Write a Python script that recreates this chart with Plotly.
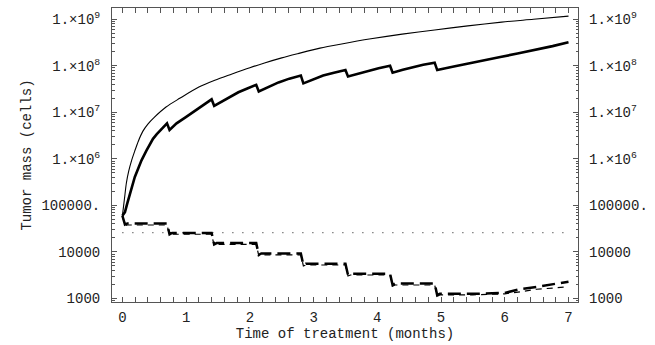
import plotly.graph_objects as go

# ---- data ----
t_untreated = [0, 0.02, 0.04, 0.062, 0.1, 0.145, 0.196, 0.25, 0.32, 0.4, 0.5, 0.685, 0.9,
               1.2, 1.45, 1.71, 2.0, 2.23, 2.5, 2.75, 3.1, 3.44, 3.9, 4.39, 4.9, 5.42,
               5.95, 6.45, 7.0]
cells_untreated = [6.0e4, 1.0e5, 1.7e5, 3.0e5, 5.5e5, 9.3e5, 1.5e6, 2.4e6, 3.9e6, 5.6e6,
                   7.8e6, 1.3e7, 2.0e7, 3.5e7, 4.9e7, 6.6e7, 9.1e7, 1.15e8, 1.48e8, 1.82e8,
                   2.4e8, 2.95e8, 3.8e8, 4.8e8, 5.9e8, 7.2e8, 8.7e8, 1.0e9, 1.17e9]

t_treated = [0, 0.04, 0.08, 0.12, 0.16, 0.195, 0.25, 0.3, 0.377, 0.43, 0.48, 0.54, 0.6, 0.65, 0.70,
             0.74, 0.85, 0.99, 1.1, 1.2, 1.3, 1.40,
             1.44, 1.6, 1.82, 1.96, 2.1,
             2.14, 2.3, 2.45, 2.62, 2.8,
             2.84, 3.0, 3.15, 3.32, 3.5,
             3.54, 3.7, 3.85, 4.02, 4.2,
             4.24, 4.4, 4.55, 4.72, 4.9,
             4.94, 5.2, 5.45, 5.7, 5.93, 6.2, 6.5, 6.75, 7.0]
cells_treated = [6.0e4, 7.2e4, 1.15e5, 1.8e5, 2.8e5, 4.1e5, 6.3e5, 9.3e5, 1.5e6, 2.1e6, 2.7e6,
                 3.4e6, 4.2e6, 5.0e6, 5.8e6,
                 4.2e6, 5.8e6, 7.8e6, 9.8e6, 1.26e7, 1.55e7, 1.9e7,
                 1.38e7, 1.86e7, 2.7e7, 3.25e7, 3.9e7,
                 2.8e7, 3.55e7, 4.4e7, 5.3e7, 6.2e7,
                 4.2e7, 5.2e7, 6.2e7, 7.1e7, 8.1e7,
                 5.9e7, 6.8e7, 7.8e7, 8.9e7, 1.0e8,
                 7.1e7, 8.2e7, 9.3e7, 1.05e8, 1.17e8,
                 8.1e7, 9.7e7, 1.15e8, 1.34e8, 1.55e8, 1.83e8, 2.2e8, 2.65e8, 3.2e8]

t_steps = [0, 0.04, 0.08, 0.70, 0.74, 0.78, 1.40, 1.44, 1.48, 2.10, 2.14, 2.18,
           2.80, 2.84, 2.88, 3.50, 3.54, 3.58, 4.20, 4.24, 4.28, 4.90, 4.94, 4.98,
           5.5, 6.0, 6.25, 6.5, 7.0]
cells_steps_a = [6.0e4, 3.9e4, 4.1e4, 4.1e4, 2.4e4, 2.57e4, 2.57e4, 1.45e4, 1.55e4,
                 1.55e4, 8.7e3, 9.3e3, 9.3e3, 5.2e3, 5.6e3, 5.6e3, 3.2e3, 3.4e3,
                 3.4e3, 1.95e3, 2.1e3, 2.1e3, 1.17e3, 1.26e3, 1.26e3, 1.32e3, 1.6e3,
                 1.78e3, 2.3e3]
cells_steps_b = [6.0e4, 3.7e4, 3.8e4, 3.8e4, 2.3e4, 2.4e4, 2.4e4, 1.38e4, 1.45e4,
                 1.45e4, 8.3e3, 8.7e3, 8.7e3, 5.0e3, 5.25e3, 5.25e3, 3.05e3, 3.2e3,
                 3.2e3, 1.85e3, 1.95e3, 1.95e3, 1.12e3, 1.2e3, 1.2e3, 1.26e3, 1.4e3,
                 1.58e3, 1.78e3]

t_threshold = [0, 7]
cells_threshold = [2.6e4, 2.6e4]

y_tickvals = [1e3, 1e4, 1e5, 1e6, 1e7, 1e8, 1e9]
y_ticktext = ["1000", "10000", "100000.", "1.\u00d710<sup>6</sup>", "1.\u00d710<sup>7</sup>",
              "1.\u00d710<sup>8</sup>", "1.\u00d710<sup>9</sup>"]
x_tickvals = [0, 1, 2, 3, 4, 5, 6, 7]

# ---- figure ----
y_minor = [900] + [m * 10 ** k for k in range(3, 9) for m in range(2, 10)]
x_minor = [i / 5 for i in range(0, 36)]

FONT = "Liberation Mono, Courier New, monospace"
INK = "#222222"
FRAME = "#555555"
FS = 14

fig = go.Figure()
fig.add_trace(go.Scatter(x=t_threshold, y=cells_threshold, mode="lines",
                         line=dict(color="#444444", width=1.4, dash="1px,9px"),
                         hoverinfo="skip"))
fig.add_trace(go.Scatter(x=t_steps, y=cells_steps_b, mode="lines",
                         line=dict(color="black", width=1.2, dash="6px,5px"),
                         hoverinfo="skip"))
fig.add_trace(go.Scatter(x=t_steps, y=cells_steps_a, mode="lines",
                         line=dict(color="black", width=2.5, dash="13px,6px"),
                         hoverinfo="skip"))
fig.add_trace(go.Scatter(x=t_untreated, y=cells_untreated, mode="lines",
                         line=dict(color="black", width=1.1, shape="spline", smoothing=0.8),
                         hoverinfo="skip"))
fig.add_trace(go.Scatter(x=t_treated, y=cells_treated, mode="lines",
                         line=dict(color="black", width=2.6), hoverinfo="skip"))
# invisible trace to carry the right-hand axis
fig.add_trace(go.Scatter(x=[0], y=[1e5], yaxis="y2", mode="markers",
                         marker=dict(opacity=0), hoverinfo="skip"))

yrange = [2.925, 9.242]
fig.update_layout(
    width=655, height=345,
    margin=dict(l=112, r=69, t=7, b=43),
    paper_bgcolor="white", plot_bgcolor="white",
    showlegend=False,
    font=dict(family=FONT, size=FS, color=INK),
    xaxis=dict(range=[-0.163, 7.149], tickvals=x_tickvals, ticktext=[str(v) for v in x_tickvals],
               ticks="inside", ticklen=5, tickcolor=FRAME, tickwidth=1,
               minor=dict(tickvals=x_minor, ticks="inside", ticklen=2.5, tickcolor=FRAME),
               showline=True, linecolor=FRAME, linewidth=1, mirror="allticks",
               showgrid=False, zeroline=False, ticklabelstandoff=2,
               title=dict(text="Time of treatment (months)", standoff=0,
                          font=dict(family=FONT, size=FS, color=INK)),
               tickfont=dict(family=FONT, size=FS, color=INK)),
    yaxis=dict(type="log", range=yrange, tickvals=y_tickvals, ticktext=y_ticktext,
               ticks="inside", ticklen=5, tickcolor=FRAME, tickwidth=1,
               minor=dict(tickvals=y_minor, ticks="inside", ticklen=2.5, tickcolor=FRAME),
               showline=True, linecolor=FRAME, linewidth=1, mirror="allticks",
               showgrid=False, zeroline=False, ticklabelstandoff=8,
               title=dict(text="Tumor mass (cells)", standoff=6,
                          font=dict(family=FONT, size=FS, color=INK)),
               tickfont=dict(family=FONT, size=FS, color=INK)),
    yaxis2=dict(type="log", range=yrange, tickvals=y_tickvals, ticktext=y_ticktext,
                overlaying="y", side="right", anchor="x", ticks="",
                showline=False, showgrid=False, zeroline=False, ticklabelstandoff=10,
                tickfont=dict(family=FONT, size=FS, color=INK)),
)

fig.write_html("out.html")
